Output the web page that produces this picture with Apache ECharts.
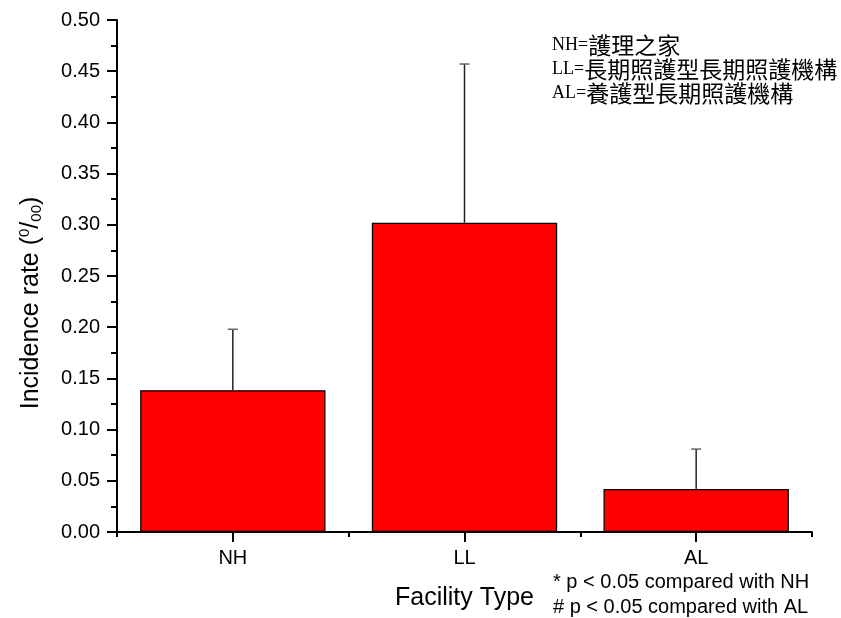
<!DOCTYPE html>
<html>
<head>
<meta charset="utf-8">
<script src="https://cdn.jsdelivr.net/npm/echarts@6/dist/echarts.min.js"></script>
<style>html,body{margin:0;padding:0;background:#fff}#c{width:841px;height:618px}</style>
</head>
<body>
<div id="c"></div>
<script>
const categories = ['NH', 'LL', 'AL'];
const means = [0.1385, 0.302, 0.042];
const errUpper = [0.198, 0.457, 0.081];
const yTicks = [0, 0.5, 0.05];
const notes = ['* p < 0.05 compared with NH', '# p < 0.05 compared with AL'];
const legendKeys = ['NH=', 'LL=', 'AL='];
const legendNames = ['護理之家', '長期照護型長期照護機構', '養護型長期照護機構'];

const chart = echarts.init(document.getElementById('c'), null, {renderer: 'canvas'});
const font = 'Liberation Sans, Arial, sans-serif';
const legendText = legendKeys.map((k, i) => '{k|' + k + '}{v|' + legendNames[i] + '}').join('\n');
const option = {
  animation: false,
  backgroundColor: '#fff',
  grid: {left: 117, right: 29, top: 20, bottom: 86},
  xAxis: [{
    type: 'category', data: categories,
    name: 'Facility Type', nameLocation: 'middle', nameGap: 54,
    nameTextStyle: {fontFamily: font, fontSize: 25, color: '#000'},
    axisLine: {lineStyle: {color: '#000', width: 2}},
    axisTick: {show: true, alignWithLabel: true, length: 10, lineStyle: {color: '#000', width: 2}},
    axisLabel: {fontFamily: font, fontSize: 20, color: '#000', margin: 16},
    splitLine: {show: false}
  }, {
    type: 'category', data: categories, position: 'bottom',
    axisLine: {show: false},
    axisTick: {show: true, length: 5, lineStyle: {color: '#000', width: 2}},
    axisLabel: {show: false},
    splitLine: {show: false}
  }],
  yAxis: {
    type: 'value', min: yTicks[0], max: yTicks[1], interval: yTicks[2],
    axisLine: {show: true, lineStyle: {color: '#000', width: 2}},
    axisTick: {show: true, length: 10, lineStyle: {color: '#000', width: 2}},
    minorTick: {show: true, splitNumber: 2, length: 6, lineStyle: {color: '#000', width: 2}},
    axisLabel: {fontFamily: font, fontSize: 20, color: '#000', margin: 17, formatter: v => v.toFixed(2)},
    splitLine: {show: false}
  },
  series: [{
    type: 'bar', data: means, barCategoryGap: '20%',
    itemStyle: {color: '#ff0000', borderColor: '#000', borderWidth: 1.2}
  }, {
    type: 'custom',
    data: categories.map((c, i) => [i, means[i], errUpper[i]]),
    renderItem: function (params, api) {
      const x = api.value(0);
      const lo = api.coord([x, api.value(1)]);
      const hi = api.coord([x, api.value(2)]);
      return {
        type: 'group',
        children: [
          {type: 'line', shape: {x1: lo[0], y1: lo[1], x2: hi[0], y2: hi[1]}, style: {stroke: '#222', lineWidth: 1.5}},
          {type: 'line', shape: {x1: hi[0] - 5, y1: hi[1], x2: hi[0] + 5, y2: hi[1]}, style: {stroke: '#666', lineWidth: 1.5}}
        ]
      };
    },
    z: 3
  }],
  graphic: [
    {type: 'text', x: 31, y: 303, rotation: Math.PI / 2, style: {
      text: '{a|Incidence rate (}{sup|0}{a|/}{sub|00}{a|)}',
      align: 'center', verticalAlign: 'middle',
      rich: {
        a: {fontFamily: font, fontSize: 25, fill: '#000'},
        sup: {fontFamily: font, fontSize: 15, fill: '#000', verticalAlign: 'top', padding: [0, 0, 12, 0]},
        sub: {fontFamily: font, fontSize: 15, fill: '#000', verticalAlign: 'bottom', padding: [10, 0, 0, 0]}
      }
    }},
    {type: 'text', left: 552, top: 33, style: {
      text: legendText, lineHeight: 24, fill: '#000',
      rich: {
        k: {fontFamily: '"Liberation Serif", serif', fontSize: 18, lineHeight: 24, fill: '#000'},
        v: {fontFamily: '"Noto Sans CJK TC", sans-serif', fontSize: 23, lineHeight: 24, fill: '#000'}
      }
    }},
    {type: 'text', left: 553, top: 570, style: {text: notes.join('\n'), fontFamily: font, fontSize: 20, lineHeight: 25, fill: '#000'}}
  ]
};
chart.setOption(option);
</script>
</body>
</html>
